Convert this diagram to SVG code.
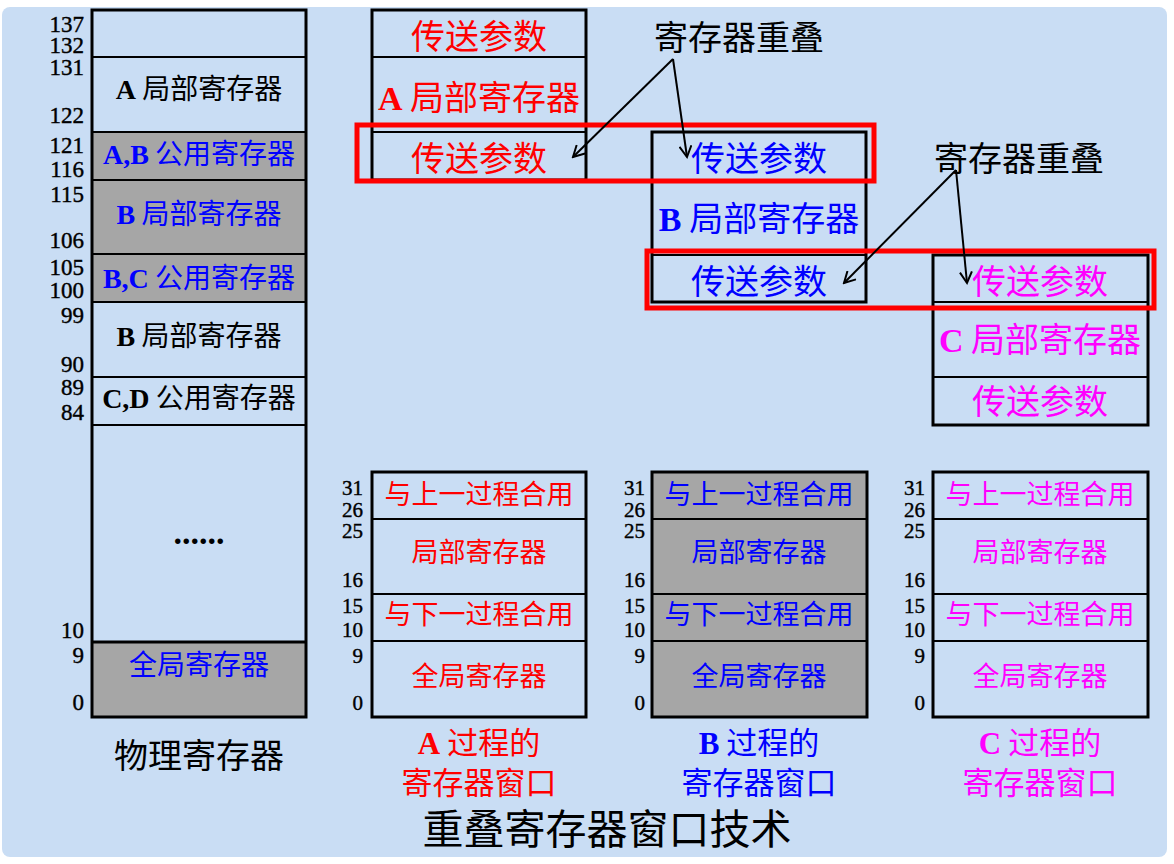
<svg xmlns="http://www.w3.org/2000/svg" width="1174" height="864" viewBox="0 0 1174 864">
<style>
.box{fill:none;stroke:#000;stroke-width:3}
.ln{stroke:#000;stroke-width:2}
.g{fill:#a6a6a6}
.cjk{font-family:"Noto Sans CJK SC","Noto Sans CJK JP",sans-serif;text-anchor:middle}
.lat{font-family:"Liberation Serif",serif;font-weight:bold}
.num{font-family:"Liberation Serif",serif;font-size:23px;text-anchor:end;fill:#000;stroke:#000;stroke-width:0.4}
.nb{font-size:21px}
.red{fill:#ff0000}.blue{fill:#0000ff}.mag{fill:#ff00ff}.blk{fill:#000}
.f28{font-size:28px}.f27{font-size:27px}.f34{font-size:34px}.f31{font-size:31px}
.hl{fill:none;stroke:#ff0000;stroke-width:5}
.arr{stroke:#000;stroke-width:2;fill:none;marker-end:url(#ah)}
</style>
<defs>
<marker id="ah" markerWidth="14" markerHeight="14" refX="12" refY="7" orient="auto" markerUnits="userSpaceOnUse">
<path d="M1,1 L12,7 L1,13" fill="none" stroke="#000" stroke-width="2"/>
</marker>
</defs>
<rect x="0" y="0" width="1174" height="864" fill="#ffffff"/>
<rect x="2" y="7" width="1165" height="850" rx="8" fill="#c9ddf4"/>

<g id="physical">
<rect class="g" x="92" y="132" width="214" height="170"/>
<rect class="g" x="92" y="642" width="214" height="75"/>
<rect class="box" x="92" y="10" width="214" height="707"/>
<line class="ln" x1="92" y1="57" x2="306" y2="57"/>
<line class="ln" x1="92" y1="132" x2="306" y2="132"/>
<line class="ln" x1="92" y1="180" x2="306" y2="180"/>
<line class="ln" x1="92" y1="254" x2="306" y2="254"/>
<line class="ln" x1="92" y1="302" x2="306" y2="302"/>
<line class="ln" x1="92" y1="377" x2="306" y2="377"/>
<line class="ln" x1="92" y1="425" x2="306" y2="425"/>
<line class="box" x1="92" y1="642" x2="306" y2="642"/>
<text class="cjk f28 blk" x="199" y="99"><tspan class="lat">A</tspan> 局部寄存器</text>
<text class="cjk f28 blue" x="199" y="164"><tspan class="lat">A,B</tspan> 公用寄存器</text>
<text class="cjk f28 blue" x="199" y="224"><tspan class="lat">B</tspan> 局部寄存器</text>
<text class="cjk f28 blue" x="199" y="288"><tspan class="lat">B,C</tspan> 公用寄存器</text>
<text class="cjk f28 blk" x="199" y="346"><tspan class="lat">B</tspan> 局部寄存器</text>
<text class="cjk f28 blk" x="199" y="408"><tspan class="lat">C,D</tspan> 公用寄存器</text>
<text class="lat" x="199" y="544" font-size="34" text-anchor="middle" fill="#000">......</text>
<text class="cjk f28 blue" x="199" y="675">全局寄存器</text>
<text class="num" x="84" y="32">137</text>
<text class="num" x="84" y="53">132</text>
<text class="num" x="84" y="75">131</text>
<text class="num" x="84" y="123">122</text>
<text class="num" x="84" y="153">121</text>
<text class="num" x="84" y="177">116</text>
<text class="num" x="84" y="202">115</text>
<text class="num" x="84" y="248">106</text>
<text class="num" x="84" y="275">105</text>
<text class="num" x="84" y="298">100</text>
<text class="num" x="84" y="323">99</text>
<text class="num" x="84" y="372">90</text>
<text class="num" x="84" y="395">89</text>
<text class="num" x="84" y="420">84</text>
<text class="num" x="84" y="638">10</text>
<text class="num" x="84" y="663">9</text>
<text class="num" x="84" y="710">0</text>
<text class="cjk f34 blk" x="199" y="768">物理寄存器</text>
</g>

<g id="winA-top">
<rect class="box" x="372" y="10" width="214" height="170"/>
<line class="ln" x1="372" y1="57" x2="586" y2="57"/>
<line class="ln" x1="372" y1="132" x2="586" y2="132"/>
<text class="cjk f34 red" x="479" y="49">传送参数</text>
<text class="cjk f34 red" x="479" y="110"><tspan class="lat">A</tspan> 局部寄存器</text>
<text class="cjk f34 red" x="479" y="171">传送参数</text>
</g>

<g id="winB-top">
<rect class="box" x="652" y="132" width="214" height="170"/>
<line class="ln" x1="652" y1="180" x2="866" y2="180"/>
<line class="ln" x1="652" y1="255" x2="866" y2="255"/>
<text class="cjk f34 blue" x="759" y="171">传送参数</text>
<text class="cjk f34 blue" x="759" y="231"><tspan class="lat">B</tspan> 局部寄存器</text>
<text class="cjk f34 blue" x="759" y="294">传送参数</text>
</g>

<g id="winC-top">
<rect class="box" x="933" y="255" width="215" height="170"/>
<line class="ln" x1="933" y1="302" x2="1148" y2="302"/>
<line class="ln" x1="933" y1="377" x2="1148" y2="377"/>
<text class="cjk f34 mag" x="1040" y="294">传送参数</text>
<text class="cjk f34 mag" x="1040" y="352"><tspan class="lat">C</tspan> 局部寄存器</text>
<text class="cjk f34 mag" x="1040" y="414">传送参数</text>
</g>

<g id="overlap1">
<rect class="hl" x="357" y="125" width="517" height="56"/>
<text class="cjk f34 blk" x="739" y="50">寄存器重叠</text>
</g>
<g id="overlap2">
<rect class="hl" x="647" y="251" width="507" height="57"/>
<text class="cjk f34 blk" x="1019" y="171">寄存器重叠</text>
</g>

<g id="connectors">
<line class="arr" x1="673" y1="59" x2="573" y2="157"/>
<line class="arr" x1="673" y1="59" x2="687" y2="157"/>
<line class="arr" x1="956" y1="170" x2="844" y2="283"/>
<line class="arr" x1="956" y1="170" x2="967" y2="283"/>
</g>

<g id="winA">
<rect class="box" x="372" y="472" width="214" height="245"/>
<line class="ln" x1="372" y1="519" x2="586" y2="519"/>
<line class="ln" x1="372" y1="594" x2="586" y2="594"/>
<line class="ln" x1="372" y1="641" x2="586" y2="641"/>
<text class="cjk f27 red" x="479" y="504">与上一过程合用</text>
<text class="cjk f27 red" x="479" y="562">局部寄存器</text>
<text class="cjk f27 red" x="479" y="624">与下一过程合用</text>
<text class="cjk f27 red" x="479" y="686">全局寄存器</text>
<text class="num nb" x="363" y="495">31</text>
<text class="num nb" x="363" y="517">26</text>
<text class="num nb" x="363" y="538">25</text>
<text class="num nb" x="363" y="587">16</text>
<text class="num nb" x="363" y="613">15</text>
<text class="num nb" x="363" y="637">10</text>
<text class="num nb" x="363" y="663">9</text>
<text class="num nb" x="363" y="710">0</text>
<text class="cjk f31 red" x="479" y="754"><tspan class="lat">A</tspan> 过程的</text>
<text class="cjk f31 red" x="479" y="794">寄存器窗口</text>
</g>

<g id="winB">
<rect class="g" x="652" y="472" width="215" height="245"/>
<rect class="box" x="652" y="472" width="215" height="245"/>
<line class="ln" x1="652" y1="519" x2="867" y2="519"/>
<line class="ln" x1="652" y1="594" x2="867" y2="594"/>
<line class="ln" x1="652" y1="641" x2="867" y2="641"/>
<text class="cjk f27 blue" x="759" y="504">与上一过程合用</text>
<text class="cjk f27 blue" x="759" y="562">局部寄存器</text>
<text class="cjk f27 blue" x="759" y="624">与下一过程合用</text>
<text class="cjk f27 blue" x="759" y="686">全局寄存器</text>
<text class="num nb" x="645" y="495">31</text>
<text class="num nb" x="645" y="517">26</text>
<text class="num nb" x="645" y="538">25</text>
<text class="num nb" x="645" y="587">16</text>
<text class="num nb" x="645" y="613">15</text>
<text class="num nb" x="645" y="637">10</text>
<text class="num nb" x="645" y="663">9</text>
<text class="num nb" x="645" y="710">0</text>
<text class="cjk f31 blue" x="759" y="754"><tspan class="lat">B</tspan> 过程的</text>
<text class="cjk f31 blue" x="759" y="794">寄存器窗口</text>
</g>

<g id="winC">
<rect class="box" x="933" y="472" width="215" height="245"/>
<line class="ln" x1="933" y1="519" x2="1148" y2="519"/>
<line class="ln" x1="933" y1="594" x2="1148" y2="594"/>
<line class="ln" x1="933" y1="641" x2="1148" y2="641"/>
<text class="cjk f27 mag" x="1040" y="504">与上一过程合用</text>
<text class="cjk f27 mag" x="1040" y="562">局部寄存器</text>
<text class="cjk f27 mag" x="1040" y="624">与下一过程合用</text>
<text class="cjk f27 mag" x="1040" y="686">全局寄存器</text>
<text class="num nb" x="925" y="495">31</text>
<text class="num nb" x="925" y="517">26</text>
<text class="num nb" x="925" y="538">25</text>
<text class="num nb" x="925" y="587">16</text>
<text class="num nb" x="925" y="613">15</text>
<text class="num nb" x="925" y="637">10</text>
<text class="num nb" x="925" y="663">9</text>
<text class="num nb" x="925" y="710">0</text>
<text class="cjk f31 mag" x="1040" y="754"><tspan class="lat">C</tspan> 过程的</text>
<text class="cjk f31 mag" x="1040" y="794">寄存器窗口</text>
</g>

<g id="title">
<text class="cjk blk" x="607" y="844" font-size="41">重叠寄存器窗口技术</text>
</g>
</svg>
